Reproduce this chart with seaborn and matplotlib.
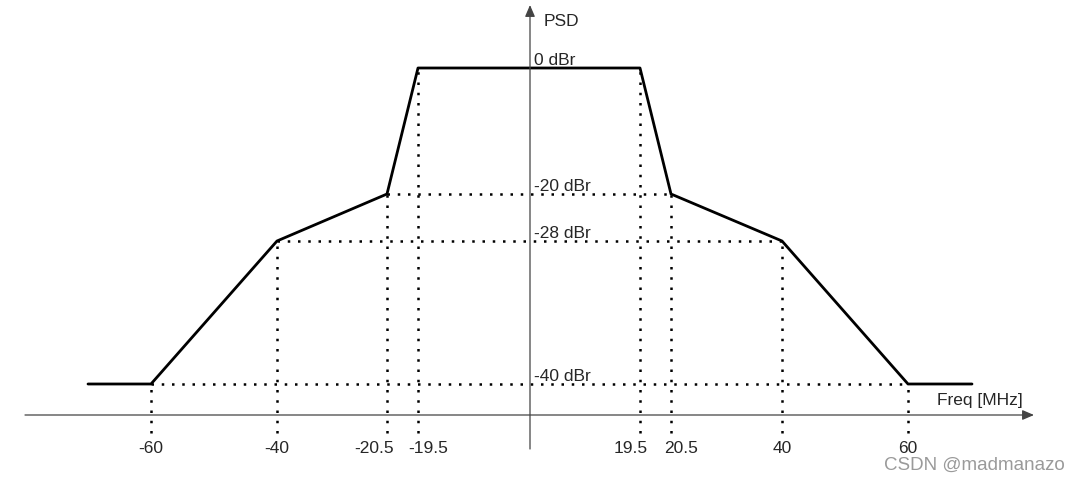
import numpy as np
import matplotlib
matplotlib.use('Agg')
import matplotlib.pyplot as plt
import seaborn as sns

# Spectral mask values (frequency in MHz, level in dBr)
mask_freq = [-70, -60, -40, -20.5, -19.5, 19.5, 20.5, 40, 60, 70]
mask_dbr = [-40, -40, -28, -20, 0, 0, -20, -28, -40, -40]

# Dotted guide levels and the frequency span they cover
level_dbr = [0, -20, -28, -40]
level_labels = ['0 dBr', '-20 dBr', '-28 dBr', '-40 dBr']
level_span = [19.5, 20.5, 40, 60]

tick_freqs = [-60, -40, -20.5, -19.5, 19.5, 20.5, 40, 60]
tick_labels = ['-60', '-40', '-20.5', '-19.5', '19.5', '20.5', '40', '60']
tick_dbr = [-40, -28, -20, 0, 0, -20, -28, -40]

# The drawing is schematic, not to scale: piecewise linear axes
sx_f = [-90, -70, -60, -40, -20.5, -19.5, 0, 19.5, 20.5, 40, 60, 70, 90]
sx_u = [0, 88, 151, 277, 387, 418, 530, 640, 671, 782, 908, 972, 1080]
sy_d = [-50, -40, -28, -20, 0, 10]
sy_u = [0, 94, 237, 284, 410, 478]

def fx(v):
    return np.interp(v, sx_f, sx_u)

def fx_inv(v):
    return np.interp(v, sx_u, sx_f)

def fy(v):
    return np.interp(v, sy_d, sy_u)

def fy_inv(v):
    return np.interp(v, sy_u, sy_d)

sns.set_style('white')
plt.rcParams['font.family'] = ['Liberation Sans', 'DejaVu Sans']

fig = plt.figure(figsize=(10.8, 4.78), dpi=100)
ax = fig.add_axes([0, 0, 1, 1])
ax.set_xscale('function', functions=(fx, fx_inv))
ax.set_yscale('function', functions=(fy, fy_inv))
ax.set_xlim(-90, 90)
ax.set_ylim(-50, 10)
ax.axis('off')

floor = -45.2
dots = (0, (1, 3.1))

# vertical dotted guides
ax.vlines(tick_freqs, floor, tick_dbr, colors='black', linestyles=dots, lw=1.8)
# horizontal dotted guides
for lv, sp in zip(level_dbr[1:], level_span[1:]):
    ax.hlines(lv, -sp, sp, colors='black', linestyles=dots, lw=1.8)

# mask line
sns.lineplot(x=mask_freq, y=mask_dbr, sort=False, color='black', lw=2, ax=ax)

# axes with arrows
arrow = dict(arrowstyle='-|>,head_length=0.7,head_width=0.3', mutation_scale=10,
             color='#444444', lw=0.9, shrinkA=0, shrinkB=0)
ax.annotate('', xy=(1034 / 1080, 1 - 415 / 478), xytext=(25 / 1080, 1 - 415 / 478),
            xycoords='axes fraction', arrowprops=arrow)
ax.annotate('', xy=(0, 1 - 5 / 478), xytext=(0, 1 - 449 / 478),
            xycoords=('data', 'axes fraction'), arrowprops=arrow)

# level labels
for lv, lab in zip(level_dbr, level_labels):
    ax.annotate(lab, (0, lv), xytext=(4, 3), textcoords='offset pixels',
                ha='left', va='baseline', fontsize=12.5)

# frequency labels
label_dx = [0, 0, -13, 10, -9, 10, 0, 0]
for f, lab, dx in zip(tick_freqs, tick_labels, label_dx):
    ax.annotate(lab, (f, floor), xytext=(dx, -16), textcoords='offset pixels',
                ha='center', va='center', fontsize=12.5)

ax.text(544 / 1080, 1 - 22 / 478, 'PSD', transform=ax.transAxes,
        ha='left', va='center', fontsize=12.5)
ax.text(1023 / 1080, 1 - 401 / 478, 'Freq [MHz]', transform=ax.transAxes,
        ha='right', va='center', fontsize=12.5)
ax.text(1065 / 1080, 1 - 465 / 478, 'CSDN @madmanazo', transform=ax.transAxes,
        ha='right', va='center', fontsize=13.5, color='#9a9a9a')

fig.savefig('out.png', dpi=100)
